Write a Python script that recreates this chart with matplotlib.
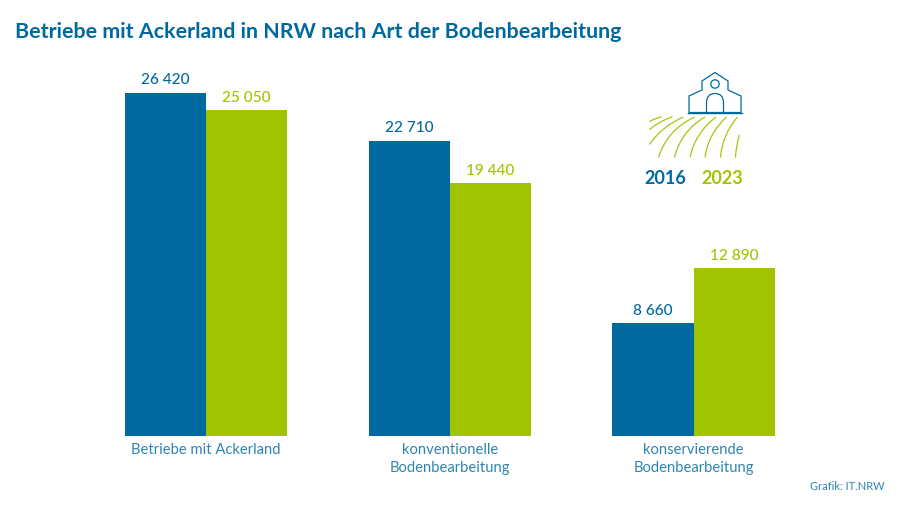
import matplotlib
matplotlib.use("Agg")
import matplotlib.pyplot as plt
from matplotlib.patches import Circle, PathPatch, Polygon
from matplotlib.path import Path

categories = ["Betriebe mit Ackerland", "konventionelle\nBodenbearbeitung", "konservierende\nBodenbearbeitung"]
values_2016 = [26420, 22710, 8660]
values_2023 = [25050, 19440, 12890]
labels_2016 = ["26 420", "22 710", "8 660"]
labels_2023 = ["25 050", "19 440", "12 890"]
BLUE = "#00699f"
GREEN = "#a1c400"
plt.rcParams["font.family"] = ["Lato", "DejaVu Sans"]

fig = plt.figure(figsize=(9, 5.06), dpi=100)

# data axes: one x unit is one group (243.9 px), y in Betriebe
px_x = 243.9
px_y = (436 - 93) / 26420
ax = fig.add_axes([0, 0, 1, 1])
ax.set_xlim(-206 / px_x, (900 - 206) / px_x)
ax.set_ylim(-69.4 / px_y, 436.6 / px_y)
ax.axis("off")
w = 81.3 / px_x
for i in range(len(categories)):
    ax.bar(i - w / 2, values_2016[i], w, color=BLUE)
    ax.bar(i + w / 2, values_2023[i], w, color=GREEN)
    ax.annotate(labels_2016[i], (i - w / 2, values_2016[i]), xytext=(0, 4.8), textcoords="offset points",
                color=BLUE, fontsize=11.1, ha="center", va="bottom", fontweight="medium")
    ax.annotate(labels_2023[i], (i + w / 2, values_2023[i]), xytext=(0, 4.8), textcoords="offset points",
                color=GREEN, fontsize=11.1, ha="center", va="bottom", fontweight="medium")
    ax.annotate(categories[i], (i, 0), xytext=(0, -4.6), textcoords="offset points",
                color="#2f84b0", fontsize=10.6, ha="center", va="top", linespacing=1.33)

# overlay in pixel coordinates for title, source and pictogram
ov = fig.add_axes([0, 0, 1, 1])
ov.set_xlim(0, 900)
ov.set_ylim(506, 0)
ov.axis("off")
ov.patch.set_alpha(0)

ov.text(15, 32, "Betriebe mit Ackerland in NRW nach Art der Bodenbearbeitung", color=BLUE,
        fontsize=15.4, fontweight="bold", va="center")
ov.text(885, 487, "Grafik: IT.NRW", color="#2f84b0", fontsize=8, ha="right", va="center")
ov.text(665, 178, "2016", color=BLUE, fontsize=13, fontweight="bold", ha="center", va="center")
ov.text(722, 178, "2023", color=GREEN, fontsize=13, fontweight="bold", ha="center", va="center")

# farm pictogram
ov.add_patch(Polygon([(689, 113.5), (689, 97), (702, 91), (702, 82), (715, 73.5), (728, 82), (728, 91), (741, 97), (741, 113.5)],
                     closed=True, fill=False, ec=BLUE, lw=0.9))
ov.plot([688, 742], [113.5, 113.5], color=BLUE, lw=1.0)
ov.add_patch(Circle((715, 85), 4.2, fill=False, ec=BLUE, lw=0.9))
ov.add_patch(PathPatch(Path([(706.5, 113.5), (706.5, 104), (706.5, 94.5), (715, 94.5), (723.5, 94.5), (723.5, 104), (723.5, 113.5)],
                            [Path.MOVETO, Path.LINETO, Path.CURVE3, Path.CURVE3, Path.CURVE3, Path.CURVE3, Path.LINETO]),
                       fill=False, ec=BLUE, lw=0.9))

# furrows: start, control, end
furrows = [
    ((649.5, 122.5), (655, 119.5), (661.5, 117.7)),
    ((649.5, 130.5), (659, 122.5), (672.5, 117.7)),
    ((649.5, 145.5), (662, 127), (683.5, 118)),
    ((658.5, 158.5), (667, 131), (694.5, 118)),
    ((674.5, 158.5), (681, 132), (705, 118)),
    ((690, 158.5), (695, 134), (716, 118)),
    ((705, 158.5), (708, 135), (726.5, 118)),
    ((720.5, 158.5), (722, 136), (737.5, 118)),
    ((735.5, 158.5), (736, 146), (739.5, 136)),
]
for p0, p1, p2 in furrows:
    ov.add_patch(PathPatch(Path([p0, p1, p2], [Path.MOVETO, Path.CURVE3, Path.CURVE3]),
                           fill=False, ec=GREEN, lw=0.85))

fig.savefig("out.png", dpi=100)
